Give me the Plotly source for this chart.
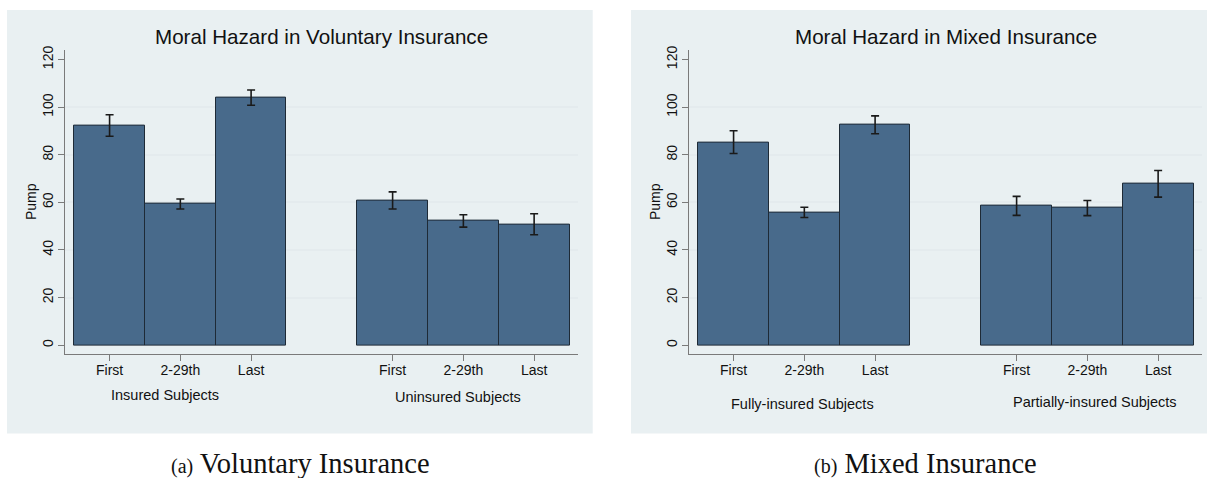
import plotly.graph_objects as go

# Mean pumps per period with 95% CI half-widths
periods = ["First", "2-29th", "Last"]

vol_groups = ["Insured Subjects", "Uninsured Subjects"]
vol_means = [[92.3, 59.3, 104.0], [60.8, 52.2, 50.8]]
vol_ci = [[4.5, 2.1, 3.2], [3.6, 2.6, 4.4]]

mix_groups = ["Fully-insured Subjects", "Partially-insured Subjects"]
mix_means = [[85.3, 55.8, 92.6], [58.5, 57.6, 67.8]]
mix_ci = [[4.8, 2.15, 3.75], [4.0, 3.2, 5.6]]

y_ticks = [0, 20, 40, 60, 80, 100, 120]
grid_vals = [20, 40, 60, 80, 100]

W, H = 1207, 478
BAR = "#486a8b"
EDGE = "#1e2a36"
PANEL = "#e9f0f2"
GRID = "#e4ebee"
AXIS = "#7a7a7a"
FONT = "Liberation Sans, Arial, Helvetica, sans-serif"
SERIF = "Liberation Serif, Times New Roman, serif"

GAP = 1  # empty slot between the two groups
group_label_offset = [[0.78, 4.93], [0.98, 5.11]]
group_label_y = [[394, 396], [403, 401]]


def px_x(p):
    return p / W


def px_y(p):
    return 1 - p / H


fig = go.Figure()

panels = [
    ("Moral Hazard in Voluntary Insurance", vol_groups, vol_means, vol_ci, "x", "y"),
    ("Moral Hazard in Mixed Insurance", mix_groups, mix_means, mix_ci, "x2", "y2"),
]

step = len(periods) + GAP
for pi, (title, groups, means, cis, xa, ya) in enumerate(panels):
    for g, (name, m, c) in enumerate(zip(groups, means, cis)):
        xs = [g * step + i for i in range(len(periods))]
        fig.add_trace(go.Bar(
            x=xs, y=m, width=1.0, name=name, xaxis=xa, yaxis=ya,
            marker=dict(color=BAR, line=dict(color=EDGE, width=1)),
            error_y=dict(type="data", array=c, symmetric=True,
                         color="#1a1a1a", thickness=1.6, width=4),
            showlegend=False, hoverinfo="x+y",
        ))
        lx = group_label_offset[pi][g]
        fig.add_annotation(
            x=lx, xref=xa, y=px_y(group_label_y[pi][g]), yref="paper",
            text=name, showarrow=False, xanchor="center", yanchor="middle",
            font=dict(family=FONT, size=14.5, color="#111111"),
        )
    fig.add_annotation(
        x=0.5, xref=f"{xa} domain", y=px_y(33), yref="paper",
        text=title, showarrow=False, xanchor="center", yanchor="middle",
        font=dict(family=FONT, size=20.6, color="#111111"),
    )

tick_pos = [g * step + i for g in range(2) for i in range(len(periods))]
tick_txt = periods * 2

xaxis_common = dict(
    range=[-0.63, 6.62], tickmode="array", tickvals=tick_pos, ticktext=tick_txt,
    ticks="outside", ticklen=6, tickcolor=AXIS, tickwidth=1.2,
    showline=True, linecolor=AXIS, linewidth=1.2,
    showgrid=False, zeroline=False, fixedrange=True, ticklabelstandoff=-3,
    tickfont=dict(family=FONT, size=14, color="#111111"),
)
yaxis_common = dict(
    range=[-3.75, 124.17], tickmode="array", tickvals=y_ticks, tickangle=-90,
    ticks="outside", ticklen=6, tickcolor=AXIS, tickwidth=1.2,
    showline=True, linecolor=AXIS, linewidth=1.2,
    showgrid=False, zeroline=False, fixedrange=True, ticklabelstandoff=-1,
    minor=dict(tickmode="array", tickvals=grid_vals, showgrid=True,
               gridcolor=GRID, gridwidth=1.6, ticks=""),
    tickfont=dict(family=FONT, size=14, color="#111111"),
    title=dict(text="Pump", standoff=0,
               font=dict(family=FONT, size=14, color="#111111")),
)

y_dom = [px_y(353), px_y(46)]
fig.update_layout(
    width=W, height=H, margin=dict(l=0, r=0, t=0, b=0),
    paper_bgcolor="white", plot_bgcolor="white", bargap=0,
    xaxis=dict(domain=[px_x(65), px_x(578)], anchor="y", **xaxis_common),
    yaxis=dict(domain=y_dom, anchor="x", **yaxis_common),
    xaxis2=dict(domain=[px_x(689), px_x(1202)], anchor="y2", **xaxis_common),
    yaxis2=dict(domain=y_dom, anchor="x2", **yaxis_common),
    shapes=[
        dict(type="rect", xref="paper", yref="paper", layer="below",
             x0=px_x(7), x1=px_x(592.7), y0=px_y(433), y1=px_y(6),
             fillcolor=PANEL, line=dict(width=0)),
        dict(type="rect", xref="paper", yref="paper", layer="below",
             x0=px_x(631), x1=1, y0=px_y(433), y1=px_y(6),
             fillcolor=PANEL, line=dict(width=0)),
    ],
)

# Sub-figure captions
captions = [("(a)", "Voluntary Insurance", 300), ("(b)", "Mixed Insurance", 925)]
for tag, text, cx in captions:
    fig.add_annotation(
        x=px_x(cx), xref="paper", y=px_y(463), yref="paper",
        text=f"<span style='font-size:20px'>{tag}</span> {text}",
        showarrow=False, xanchor="center", yanchor="middle",
        font=dict(family=SERIF, size=28.5, color="#111111"),
    )

fig.write_html("out.html")
